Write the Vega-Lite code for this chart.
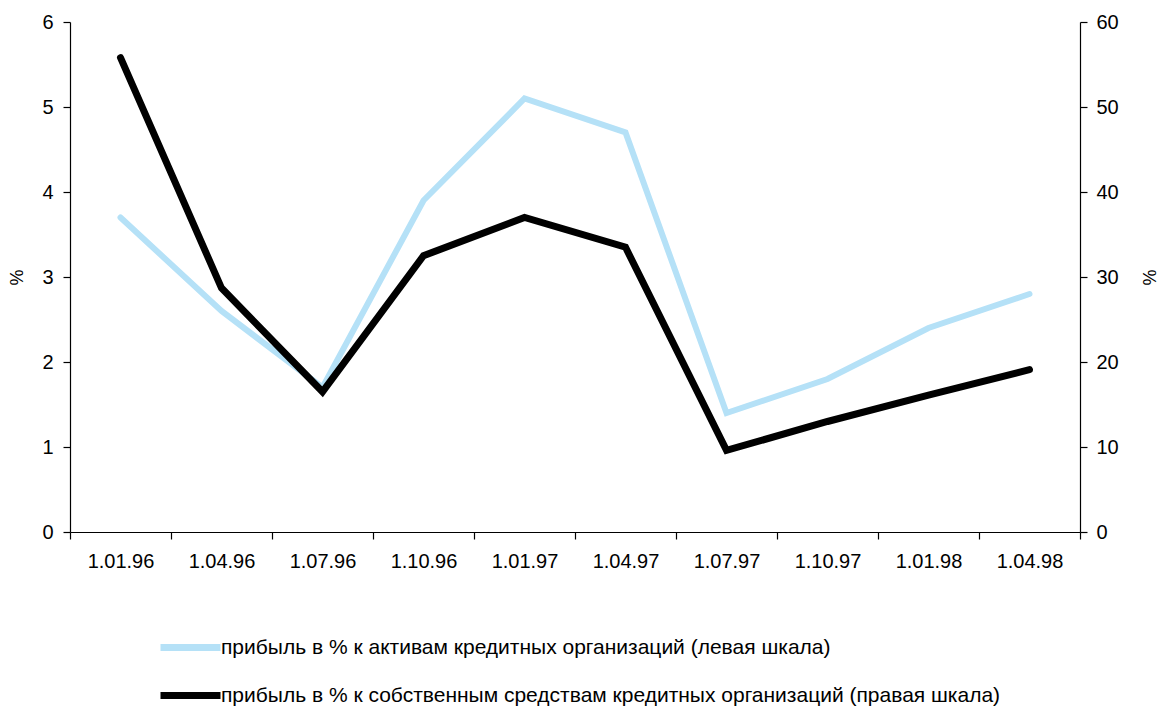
{
  "$schema": "https://vega.github.io/schema/vega-lite/v6.json",
  "autosize": {"type": "none"},
  "width": 1010,
  "height": 510,
  "padding": {"left": 70, "top": 22, "right": 80, "bottom": 174},
  "background": "white",
  "config": {
    "font": "Liberation Sans",
    "view": {"stroke": null},
    "axis": {"grid": false, "domainColor": "black", "tickColor": "black", "labelColor": "black", "titleColor": "black", "labelFontSize": 20, "titleFontSize": 18, "titleFontWeight": "normal", "tickSize": 7, "domainWidth": 1.2, "tickWidth": 1.2, "labelOverlap": false}
  },
  "data": {"values": [
    {"date": "1.01.96", "assets": 3.7, "equity": 55.8},
    {"date": "1.04.96", "assets": 2.6, "equity": 28.7},
    {"date": "1.07.96", "assets": 1.7, "equity": 16.5},
    {"date": "1.10.96", "assets": 3.9, "equity": 32.5},
    {"date": "1.01.97", "assets": 5.1, "equity": 37.0},
    {"date": "1.04.97", "assets": 4.7, "equity": 33.5},
    {"date": "1.07.97", "assets": 1.4, "equity": 9.6},
    {"date": "1.10.97", "assets": 1.8, "equity": 13.0},
    {"date": "1.01.98", "assets": 2.4, "equity": 16.1},
    {"date": "1.04.98", "assets": 2.8, "equity": 19.1}
  ]},
  "encoding": {
    "x": {"field": "date", "type": "ordinal", "sort": null, "bandPosition": 0.5,
      "scale": {"type": "band", "paddingInner": 0, "paddingOuter": 0},
      "axis": {"title": null, "labelAngle": 0, "tickBand": "extent", "labelPadding": 12}}
  },
  "layer": [
    {
      "mark": {"type": "line", "strokeWidth": 6, "strokeCap": "round", "strokeJoin": "miter"},
      "encoding": {
        "y": {"field": "assets", "type": "quantitative", "scale": {"domain": [0, 6]},
          "axis": {"title": "%", "orient": "left", "values": [0,1,2,3,4,5,6], "labelPadding": 10, "titlePadding": 15}},
        "color": {"datum": "прибыль в % к активам кредитных организаций (левая шкала)", "type": "nominal",
          "scale": {"domain": ["прибыль в % к активам кредитных организаций (левая шкала)", "прибыль в % к собственным средствам кредитных организаций (правая шкала)"], "range": ["#b5e1f7", "#000000"]},
          "legend": {"title": null, "orient": "none", "legendX": 87, "legendY": 592, "direction": "vertical",
            "symbolType": "stroke", "symbolSize": 3600, "symbolStrokeWidth": 7, "labelFontSize": 21, "labelColor": "black", "labelOffset": -3, "rowPadding": -22, "labelLimit": 1000}}
      }
    },
    {
      "mark": {"type": "line", "strokeWidth": 7, "strokeCap": "round", "strokeJoin": "miter"},
      "encoding": {
        "y": {"field": "equity", "type": "quantitative", "scale": {"domain": [0, 60]},
          "axis": {"title": "%", "orient": "right", "values": [0,10,20,30,40,50,60], "labelPadding": 9, "titlePadding": 20}},
        "color": {"datum": "прибыль в % к собственным средствам кредитных организаций (правая шкала)", "type": "nominal"}
      }
    }
  ],
  "resolve": {"scale": {"y": "independent"}}
}
